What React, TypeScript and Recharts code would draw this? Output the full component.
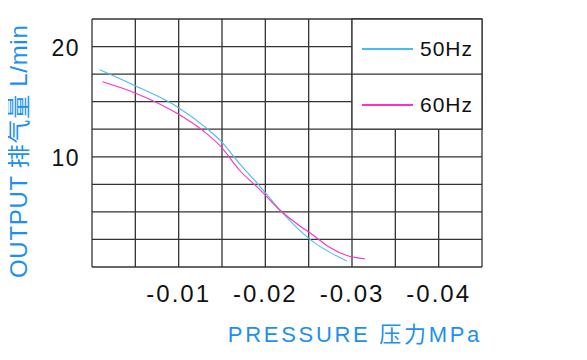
import React from 'react';
import { LineChart, Line, XAxis, YAxis, CartesianGrid, ReferenceArea, ReferenceLine, Legend } from 'recharts';

const pressure50 = [0.0009, 0.0051, 0.0099, 0.0132, 0.0149, 0.0170, 0.0194, 0.0217, 0.0236, 0.0255, 0.0274, 0.0294];
const output50 = [17.9, 16.4, 14.5, 12.6, 11.4, 9.4, 7.3, 5.15, 3.6, 2.3, 1.35, 0.55];
const pressure60 = [0.0012, 0.0051, 0.0099, 0.0130, 0.0149, 0.0170, 0.0194, 0.0217, 0.0236, 0.0255, 0.0274, 0.0294, 0.0315];
const output60 = [16.8, 15.75, 13.9, 12.25, 10.9, 8.8, 7.0, 5.15, 3.95, 2.9, 1.8, 1.05, 0.75];

const xTicks = [0, 0.005, 0.01, 0.015, 0.02, 0.025, 0.03, 0.035, 0.04, 0.045];
const xLabelled = [0.01, 0.02, 0.03, 0.04];
const yTicks = [0, 2.5, 5, 7.5, 10, 12.5, 15, 17.5, 20, 22.5];
const yLabelled = [10, 20];

const series = [
  { name: '50Hz', color: '#45bff0', data: pressure50.map((p, i) => ({ p, v: output50[i] })) },
  { name: '60Hz', color: '#ff30c8', data: pressure60.map((p, i) => ({ p, v: output60[i] })) },
];

const FONT = '"Liberation Sans", Arial, "Noto Sans CJK SC", sans-serif';
const GRID = '#333333';
const BLUE = '#1e8ff0';

const near = (a: number, list: number[]) => list.some((t) => Math.abs(t - a) < 1e-9);

const XTick = (props: any) => {
  const { x, y, payload } = props;
  if (!near(payload.value, xLabelled)) return null;
  return (
    <text x={x} y={y} textAnchor="middle" fontFamily={FONT} fontSize={24} fill="#111" style={{ letterSpacing: 2 }}>
      {'-' + payload.value.toFixed(2)}
    </text>
  );
};

const YTick = (props: any) => {
  const { x, y, payload } = props;
  if (!near(payload.value, yLabelled)) return null;
  return (
    <text x={x} y={y} textAnchor="end" dy={9} fontFamily={FONT} fontSize={23} fill="#111" style={{ letterSpacing: 1.5 }}>
      {String(payload.value)}
    </text>
  );
};

const LegendContent = () => (
  <div style={{ position: 'relative', width: 130, height: 112, fontFamily: FONT }}>
    {series.map((s, i) => (
      <div key={s.name} style={{ position: 'absolute', left: 0, top: i * 56, height: 22, display: 'flex', alignItems: 'center' }}>
        <div style={{ width: 51, height: 1.2, background: s.color, marginRight: 7 }} />
        <span style={{ fontSize: 21, letterSpacing: 1, color: '#111' }}>{s.name}</span>
      </div>
    ))}
  </div>
);

export default function App() {
  return (
    <div style={{ position: 'relative', width: 570, height: 345 }}>
      <LineChart width={570} height={345} margin={{ top: 11, right: 96, left: 0, bottom: 46 }}>
        <CartesianGrid stroke={GRID} strokeWidth={1.3} horizontalValues={yTicks} verticalValues={xTicks} />
        <XAxis
          type="number"
          dataKey="p"
          domain={[0, 0.045]}
          ticks={xTicks}
          interval={0}
          axisLine={false}
          tickLine={false}
          tickSize={0}
          tickMargin={35}
          height={40}
          tick={<XTick />}
        />
        <YAxis
          type="number"
          dataKey="v"
          domain={[0, 22.5]}
          ticks={yTicks}
          interval={0}
          axisLine={false}
          tickLine={false}
          tickSize={0}
          tickMargin={12}
          width={84}
          tick={<YTick />}
        />
        <ReferenceArea x1={0.03} x2={0.045} y1={12.5} y2={22.5} fill="#fff" fillOpacity={1} stroke={GRID} strokeWidth={1.3} />
        <ReferenceLine segment={[{ x: 0.03, y: 17.5 }, { x: 0.045, y: 17.5 }]} stroke={GRID} strokeWidth={1.3} />
        {series.map((s) => (
          <Line
            key={s.name}
            data={s.data}
            dataKey="v"
            name={s.name}
            type="monotone"
            stroke={s.color}
            strokeWidth={1.1}
            dot={false}
            isAnimationActive={false}
          />
        ))}
        <Legend
          layout="horizontal"
          verticalAlign="middle"
          align="center"
          content={<LegendContent />}
          wrapperStyle={{ left: 354, top: 30, width: 130, height: 112 }}
        />
      </LineChart>
      <svg width={570} height={345} style={{ position: 'absolute', left: 0, top: 0, pointerEvents: 'none', overflow: 'visible' }}>
        <text x={474} y={334} textAnchor="end" fontFamily={FONT} fontSize={22} fill={BLUE} style={{ letterSpacing: 2.7 }}>
          PRESSURE 压力MPa
        </text>
        <text x={19} y={270} transform="rotate(-90 19 270)" textAnchor="start" fontFamily={FONT} fontSize={24} fill={BLUE} style={{ letterSpacing: 0.7 }}>
          OUTPUT 排气量 L/min
        </text>
      </svg>
    </div>
  );
}
